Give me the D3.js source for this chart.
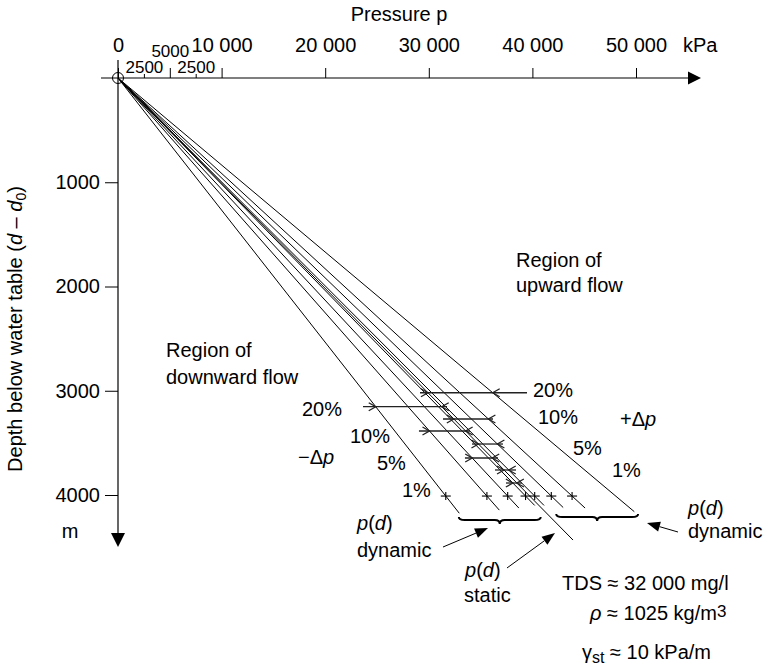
<!DOCTYPE html>
<html><head><meta charset="utf-8">
<script src="https://cdn.jsdelivr.net/npm/d3@7"></script>
<style>
body{margin:0;background:#fff}
svg text{font-family:"Liberation Sans",Arial,Helvetica,sans-serif;fill:#000}
</style>
</head><body>
<svg id="c" width="770" height="669"></svg>
<script>
// ---------- data ----------
const pressureTicks = [0, 10000, 20000, 30000, 40000, 50000];
const pressureTickLabels = ["0", "10 000", "20 000", "30 000", "40 000", "50 000"];
const minorTicks = [2500, 5000, 7500];
const minorTickLabels = ["2500", "5000", "2500"];
const depthTicks = [1000, 2000, 3000, 4000];

const staticGradient = 9.91;          // kPa/m, static line
const staticEndDepth = 4432;
const flowPercents  = [-20, -10, -5, -1, 1, 5, 10, 20];
const lineGradients = [7.89, 8.88, 9.38, 9.81, 10.03, 10.43, 10.93, 11.98]; // kPa/m
const lineEndDepths = [4175, 4145, 4125, 4100, 4100, 4120, 4125, 4160];

const markerDepth = 4010;
const markerPercents = [-20, -10, -5, -1, 1, 5, 10];

const barPercents = [20, -20, 10, -10, 5, -5, 1, -1];
const barDepths   = [3019, 3153, 3271, 3386, 3511, 3645, 3760, 3885];
const barStarts   = [29150, 23650, 31370, 29050, 34170, 33490, 36390, 37450];
const barEnds     = [39480, 31760, 36200, 33980, 37160, 36680, 38420, 39000];

// ---------- drawing ----------
const svg = d3.select("#c");
const FF = '"Liberation Sans",Arial,Helvetica,sans-serif';
const x = d3.scaleLinear().domain([0, 50000]).range([118, 636]);
const y = d3.scaleLinear().domain([0, 4000]).range([78, 495]);
const gradOf = p => lineGradients[flowPercents.indexOf(p)];

// top axis line + arrow
svg.append("line").attr("x1", 101).attr("x2", 690).attr("y1", y(0)).attr("y2", y(0))
  .attr("stroke", "#000").attr("stroke-width", 1.2);
svg.append("path").attr("d", `M688,${y(0)-6.5}L701,${y(0)}L688,${y(0)+6.5}Z`).attr("fill", "#000");

// major ticks
const gTop = svg.append("g").attr("transform", `translate(0,${y(0)})`)
  .call(d3.axisTop(x).tickValues(pressureTicks).tickSize(10).tickPadding(16)
        .tickFormat((d, i) => pressureTickLabels[i]));
gTop.select(".domain").remove();
gTop.attr("font-size", 20).attr("font-family", FF);

// minor ticks
const gMin = svg.append("g").attr("transform", `translate(0,${y(0)})`)
  .call(d3.axisTop(x).tickValues(minorTicks).tickSize(4).tickFormat((d, i) => minorTickLabels[i]));
gMin.select(".domain").remove();
gMin.attr("font-size", 17).attr("font-family", FF);
gMin.selectAll(".tick line").attr("y2", d => d === 5000 ? -10 : -4);
gMin.selectAll(".tick text").attr("y", d => d === 5000 ? -21 : -5);

svg.append("text").attr("x", 683).attr("y", 52).attr("font-size", 20).text("kPa");
svg.append("text").attr("x", 399).attr("y", 21).attr("font-size", 20).attr("text-anchor", "middle").text("Pressure p");

// left axis
svg.append("line").attr("x1", x(0)).attr("x2", x(0)).attr("y1", 60).attr("y2", 535)
  .attr("stroke", "#000").attr("stroke-width", 1.2);
svg.append("path").attr("d", `M${x(0)-7},533L${x(0)},547L${x(0)+7},533Z`).attr("fill", "#000");
const gLeft = svg.append("g").attr("transform", `translate(${x(0)},0)`)
  .call(d3.axisLeft(y).tickValues(depthTicks).tickSize(13).tickPadding(5).tickFormat(d => d));
gLeft.select(".domain").remove();
gLeft.attr("font-size", 20).attr("font-family", FF);
svg.append("text").attr("x", 70).attr("y", 538).attr("font-size", 20).attr("text-anchor", "middle").text("m");

const yl = svg.append("text").attr("transform", "translate(22,329) rotate(-90)")
  .attr("text-anchor", "middle").attr("font-size", 20);
yl.append("tspan").text("Depth below water table (");
yl.append("tspan").attr("font-style", "italic").text("d");
yl.append("tspan").text(" \u2013 ");
yl.append("tspan").attr("font-style", "italic").text("d");
yl.append("tspan").attr("font-size", 14).attr("dy", 4).text("0");
yl.append("tspan").attr("dy", -4).text(")");

// origin circle
svg.append("circle").attr("cx", x(0)).attr("cy", y(0)).attr("r", 5.5)
  .attr("fill", "none").attr("stroke", "#000");

// dynamic lines
svg.append("g").selectAll("line").data(flowPercents).join("line")
  .attr("x1", x(0)).attr("y1", y(0))
  .attr("x2", (p, i) => x(lineGradients[i] * lineEndDepths[i]))
  .attr("y2", (p, i) => y(lineEndDepths[i]))
  .attr("stroke", "#000").attr("stroke-width", 1);
// static line
svg.append("line").attr("x1", x(0)).attr("y1", y(0))
  .attr("x2", x(staticGradient * staticEndDepth)).attr("y2", y(staticEndDepth))
  .attr("stroke", "#000").attr("stroke-width", 1);

// "+" markers at 4000 m
const gm = svg.append("g").attr("stroke", "#000").attr("stroke-width", 1.1);
markerPercents.forEach(p => {
  const cx = x(gradOf(p) * markerDepth), cy = y(markerDepth);
  gm.append("line").attr("x1", cx - 5).attr("x2", cx + 5).attr("y1", cy).attr("y2", cy);
  gm.append("line").attr("x1", cx).attr("x2", cx).attr("y1", cy - 4).attr("y2", cy + 4);
});

// dimension bars
const gb = svg.append("g").attr("stroke", "#222").attr("fill", "none").attr("stroke-width", 1.3);
barPercents.forEach((p, i) => {
  const d = barDepths[i], yy = y(d);
  gb.append("line").attr("x1", x(barStarts[i])).attr("x2", x(barEnds[i])).attr("y1", yy).attr("y2", yy);
  const a = x(staticGradient * d), b = x(gradOf(p) * d);
  const lo = Math.min(a, b), hi = Math.max(a, b);
  gb.append("path").attr("d", `M${lo-7},${yy-4}L${lo},${yy}L${lo-7},${yy+4}`);
  gb.append("path").attr("d", `M${hi+7},${yy-4}L${hi},${yy}L${hi+7},${yy+4}`);
});

// braces
function brace(p1, p2, d) {
  const x1 = x(p1), x2 = x(p2), y0 = y(d), xm = (x1 + x2) / 2, h = 3, c = 7;
  return `M${x1},${y0}Q${x1},${y0+h} ${x1+6},${y0+h}L${xm-5},${y0+h}Q${xm},${y0+h} ${xm},${y0+c}` +
         `Q${xm},${y0+h} ${xm+5},${y0+h}L${x2-6},${y0+h}Q${x2},${y0+h} ${x2},${y0}`;
}
svg.append("path").attr("d", brace(32900, 40800, 4212)).attr("fill", "none").attr("stroke", "#000").attr("stroke-width", 2);
svg.append("path").attr("d", brace(42300, 50200, 4182)).attr("fill", "none").attr("stroke", "#000").attr("stroke-width", 2);

// annotation arrows
function arrow(p1, d1, p2, d2) {
  const X1 = x(p1), Y1 = y(d1), X2 = x(p2), Y2 = y(d2);
  const ang = Math.atan2(Y2 - Y1, X2 - X1), L = 13, W = 5;
  const bx = X2 - L * Math.cos(ang), by = Y2 - L * Math.sin(ang);
  svg.append("line").attr("x1", X1).attr("y1", Y1).attr("x2", bx).attr("y2", by).attr("stroke", "#000");
  svg.append("path").attr("d",
    `M${X2},${Y2}L${bx + W*Math.sin(ang)},${by - W*Math.cos(ang)}L${bx - W*Math.sin(ang)},${by + W*Math.cos(ang)}Z`)
    .attr("fill", "#000");
}
arrow(31370, 4499, 35714, 4317);
arrow(37548, 4700, 42181, 4365);
arrow(54054, 4355, 51062, 4269);

// text labels
function txt(xp, yp, parts, size, anchor) {
  const t = svg.append("text").attr("x", xp).attr("y", yp).attr("font-size", size || 20)
    .attr("text-anchor", anchor || "start");
  parts.forEach(pt => {
    if (typeof pt === "string") t.append("tspan").text(pt);
    else {
      const s = t.append("tspan").text(pt.t);
      if (pt.i) s.attr("font-style", "italic");
      if (pt.s) s.attr("font-size", pt.s);
      if (pt.dy) s.attr("dy", pt.dy);
    }
  });
  return t;
}
txt(516, 267, ["Region of"]);
txt(516, 292, ["upward flow"]);
txt(166, 357, ["Region of"]);
txt(166, 384, ["downward flow"]);

// percent labels
txt(302, 416, ["20%"]);
txt(350, 443, ["10%"]);
txt(377, 470, ["5%"]);
txt(402, 497, ["1%"]);
txt(533, 397, ["20%"]);
txt(538, 424, ["10%"]);
txt(573, 455, ["5%"]);
txt(612, 477, ["1%"]);
txt(298, 464, ["\u2212\u0394", {t: "p", i: 1}]);
txt(620, 426, ["+\u0394", {t: "p", i: 1}]);

const pd = [{t: "p", i: 1}, "(", {t: "d", i: 1}, ")"];
txt(357, 530, pd);
txt(357, 557, ["dynamic"]);
txt(465, 577, pd);
txt(464, 602, ["static"]);
txt(688, 515, pd);
txt(688, 538, ["dynamic"]);

txt(562, 590, ["TDS \u2248 32 000 mg/l"]);
txt(590, 620, [{t: "\u03c1", i: 1}, " \u2248 1025 kg/m", {t: "3", s: 17, dy: -3}]);
txt(582, 659, ["\u03b3", {t: "st", s: 16, dy: 4}, {t: " \u2248 10 kPa/m", dy: -4}]);
</script>
</body></html>
